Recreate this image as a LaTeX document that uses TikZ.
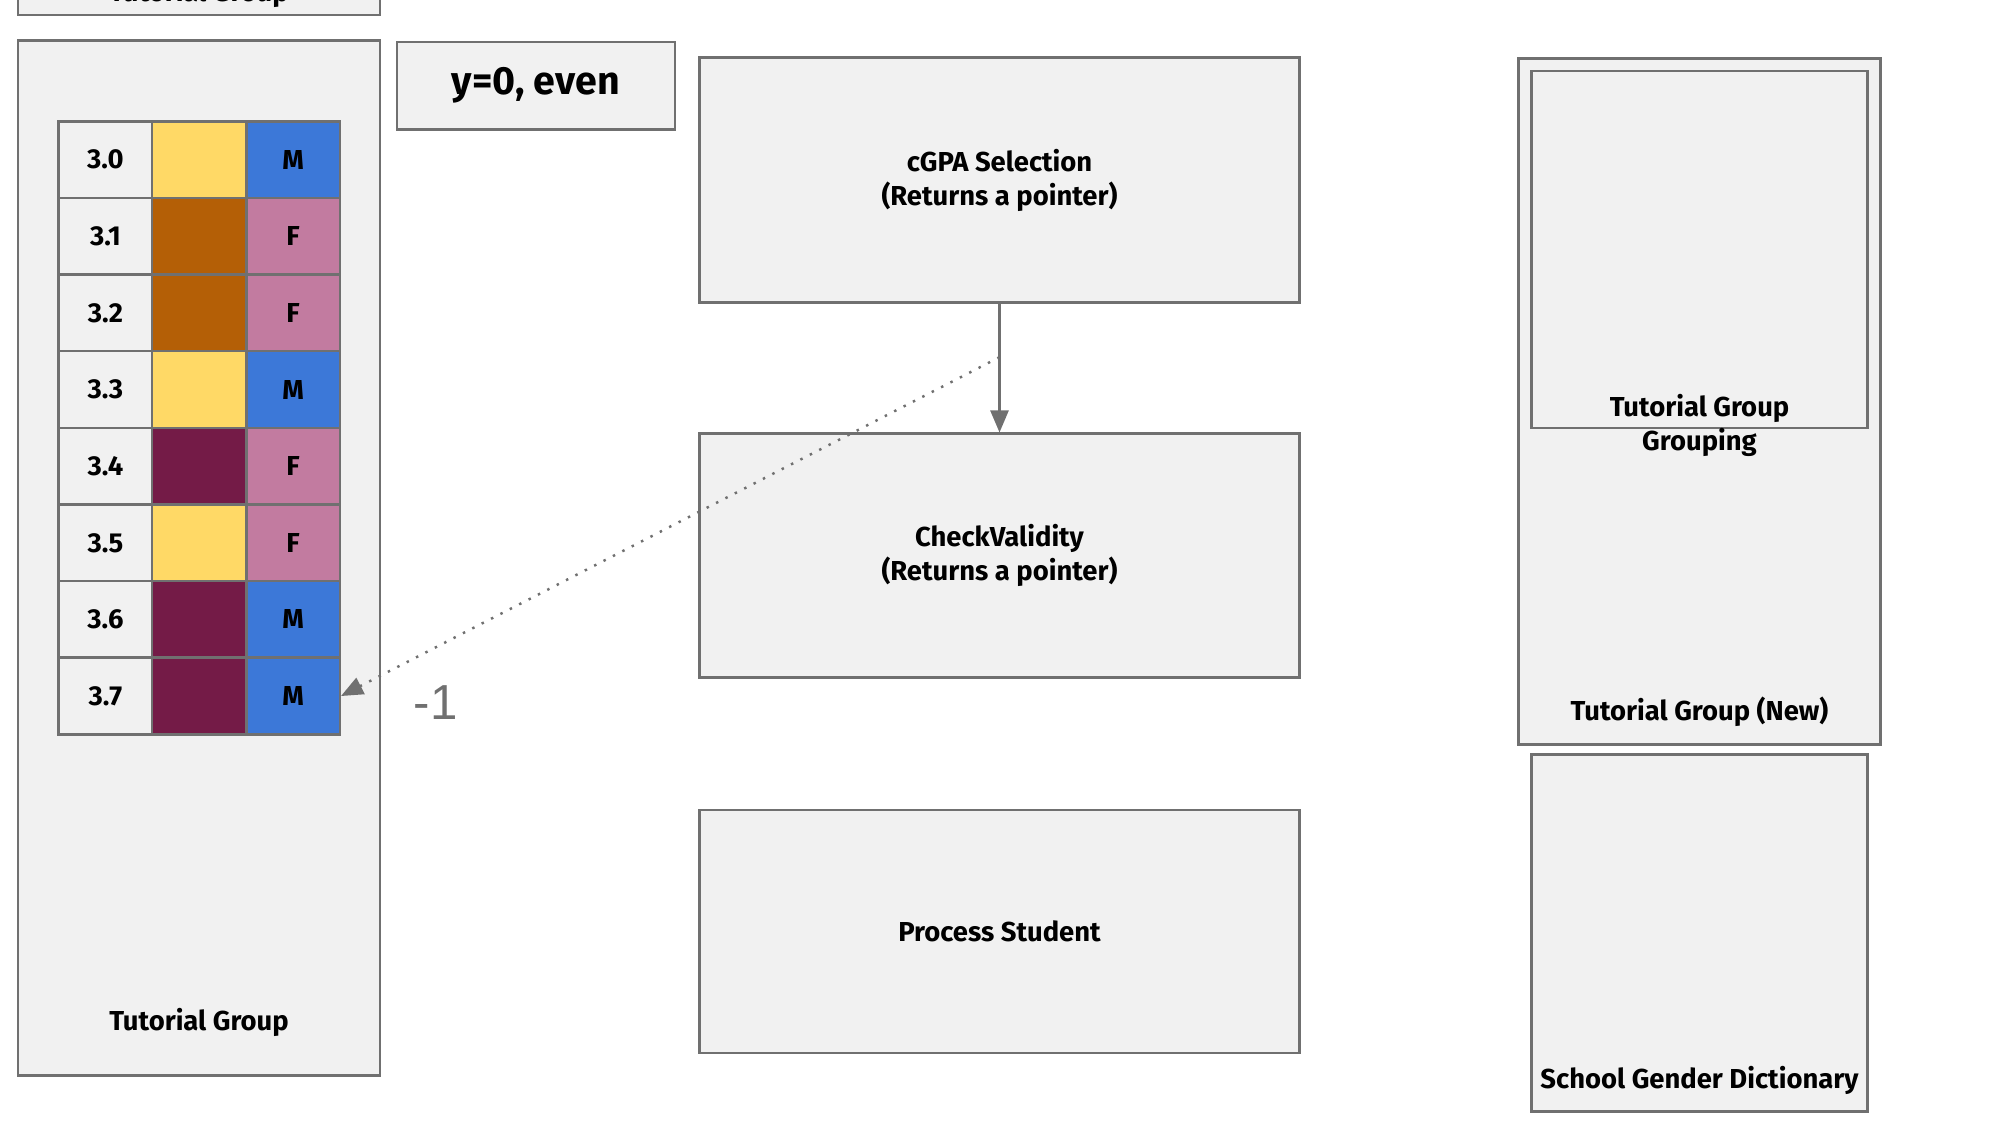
\documentclass[tikz,border=0pt]{standalone}
\usepackage{fontspec}
\setmainfont{Fira Sans}
\newfontfamily\retfont{Liberation Sans}
\usetikzlibrary{arrows.meta}
\definecolor{boxfill}{HTML}{F1F1F1}
\definecolor{boxline}{HTML}{707070}
\definecolor{tgyellow}{HTML}{FFD966}
\definecolor{tgorange}{HTML}{B45F06}
\definecolor{tgpurple}{HTML}{741B47}
\definecolor{tgblue}{HTML}{3C78D8}
\definecolor{tgpink}{HTML}{C27BA0}

\begin{document}
\begin{tikzpicture}[x=0.0995mm,y=-0.0995mm,
    box/.style={draw=boxline,fill=boxfill,line width=0.7pt,inner sep=0pt},
    cell/.style={draw=boxline,line width=0.7pt,minimum width=9.35mm,minimum height=7.66mm,inner sep=0pt,font=\fontsize{7.8}{8.5}\selectfont\bfseries},
    lbl/.style={font=\fontsize{7.8}{9.6}\selectfont\bfseries,align=center},
    link/.style={draw=boxline,line width=0.7pt,-{Triangle[length=2.2mm,width=1.8mm]}}]
        \useasboundingbox (0,0) rectangle (2010,1130.65);
        % left column: tutorial groups
        \node[box,minimum width=36.2mm,minimum height=8mm] (tgtop) at (200,-25) {};
        \node[lbl,anchor=base] (tgtoplbl) at (200,2) {Tutorial Group};
        \node[box,minimum width=36.2mm,minimum height=103.5mm] (tg) at (200,561) {};
        \node[lbl] (tglbl) at (200,1028) {Tutorial Group};
        \foreach \val/\col/\sexcol/\sex [count=\r from 0] in {3.0/tgyellow/tgblue/M, 3.1/tgorange/tgpink/F, 3.2/tgorange/tgpink/F, 3.3/tgyellow/tgblue/M, 3.4/tgpurple/tgpink/F, 3.5/tgyellow/tgpink/F, 3.6/tgpurple/tgblue/M, 3.7/tgpurple/tgblue/M} {
            \node[cell,fill=boxfill] (v\r) at (106,{160.5+77*\r}) {\val};
            \node[cell,fill=\col] (c\r) at (200,{160.5+77*\r}) {};
            \node[cell,fill=\sexcol] (s\r) at (294.5,{160.5+77*\r}) {\sex};
        }
        \node[box,minimum width=27.8mm,minimum height=8.75mm,font=\fontsize{11.2}{12}\selectfont\bfseries] (mode) at (538.5,86) {y=0, even};
        % middle column: steps
        \node[box,lbl,minimum width=60mm,minimum height=24.5mm] (sel) at (1004.5,181) {cGPA Selection\\(Returns a pointer)};
        \node[box,lbl,minimum width=60mm,minimum height=24.4mm] (chk) at (1004.5,558.5) {CheckValidity\\(Returns a pointer)};
        \node[box,lbl,minimum width=60mm,minimum height=24.3mm] (proc) at (1004.5,936) {Process Student};
        \draw[link] (sel) -- (chk);
        \coordinate (tap) at (1004.5,359);
        \draw[link,dash pattern=on 0.7pt off 2.3pt] (tap) -- (s7.east);
        \node[font=\retfont\fontsize{14}{16}\selectfont,text=boxline] (ret) at (438,706) {-1};
        % right column: results
        \node[box,minimum width=36.2mm,minimum height=68.6mm] (tgnew) at (1708,403.5) {};
        \node[box,minimum width=33.6mm,minimum height=35.7mm] (grp) at (1708,250.5) {};
        \node[lbl] (grplbl) at (1708,427.5) {Tutorial Group\\Grouping};
        \node[lbl] (tgnewlbl) at (1708,715) {Tutorial Group (New)};
        \node[box,minimum width=33.6mm,minimum height=35.7mm] (dict) at (1708,937.5) {};
        \node[lbl] (dictlbl) at (1708,1086) {School Gender Dictionary};
    \end{tikzpicture}
\end{document}
